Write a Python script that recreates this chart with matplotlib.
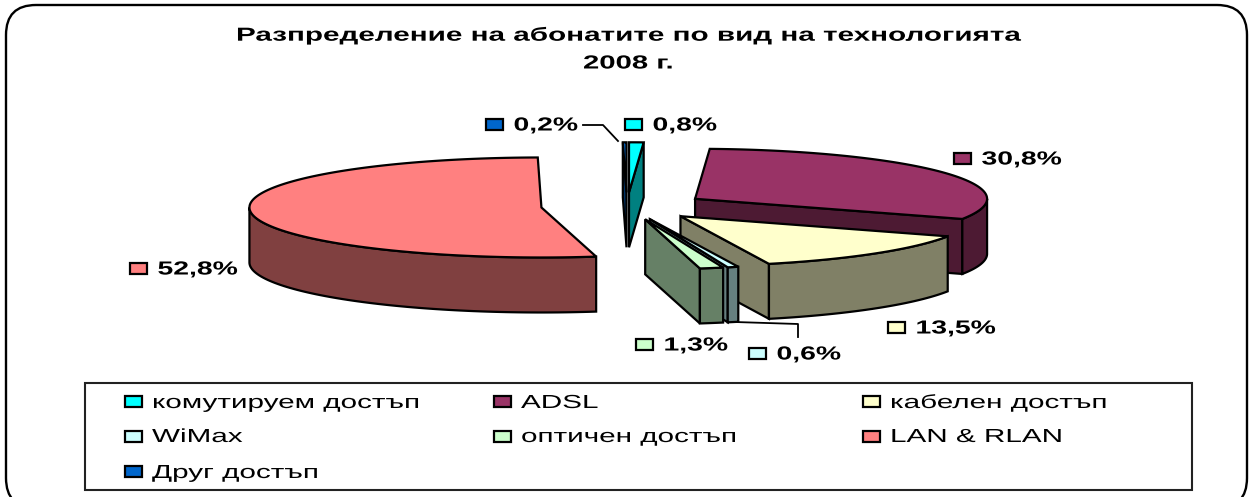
import numpy as np
import matplotlib
matplotlib.use("Agg")
import matplotlib.pyplot as plt
from matplotlib.patches import FancyBboxPatch, Polygon, Rectangle
from matplotlib.patheffects import AbstractPathEffect
from matplotlib.transforms import Affine2D

plt.rcParams["font.family"] = ["Liberation Sans", "DejaVu Sans"]

# -------------------------------
# Data (slices clockwise from 12 o'clock)
# -------------------------------
labels = ["комутируем достъп", "ADSL", "кабелен достъп", "WiMax",
          "оптичен достъп", "LAN & RLAN", "Друг достъп"]
values = [0.8, 30.8, 13.5, 0.6, 1.3, 52.8, 0.2]
colors = ["#00FFFF", "#993366", "#FFFFCC", "#CCFFFF", "#CCFFCC", "#FF8080", "#0066CC"]
title_lines = ["Разпределение на абонатите по вид на технологията", "2008 г."]

# pie geometry, in pixels of the figure
cx, cy = 627, 206
rx, ry = 292, 50
depth = 55
explode = [80, 80, 80, 80, 80, 86, 80]

# where each value label goes: swatch x, swatch y
label_pos = [(633, 124), (962, 158), (896, 327), (757, 353), (644, 344), (138, 268), (494, 124)]
# back to front
draw_order = [5, 6, 0, 1, 2, 3, 4]


# the reference text is wide, as if the chart was stretched sideways
class StretchX(AbstractPathEffect):
    def __init__(self, sx):
        super().__init__()
        self.sx = sx

    def draw_path(self, renderer, gc, tpath, affine, rgbFace=None):
        renderer.draw_path(gc, tpath, Affine2D().scale(self.sx, 1) + affine, rgbFace)


def point(a, x0, y0):
    return x0 + rx * np.sin(a), y0 - ry * np.cos(a)


def shade(hex_color):
    rgb = matplotlib.colors.to_rgb(hex_color)
    return tuple(c * 0.5 for c in rgb)


def draw_slice(ax, a0, a1, color, offset):
    mid = (a0 + a1) / 2
    x0 = cx + offset * np.sin(mid)
    y0 = cy - offset * ry / rx * np.cos(mid)
    side = shade(color)
    kw = dict(edgecolor="black", linewidth=1.6, joinstyle="miter", zorder=3)

    # cut faces, only those turned to the viewer
    if np.sin(a0) < -1e-9:
        xe, ye = point(a0, x0, y0)
        ax.add_patch(Polygon([(x0, y0), (xe, ye), (xe, ye + depth), (x0, y0 + depth)], facecolor=side, **kw))
    if np.sin(a1) > 1e-9:
        xe, ye = point(a1, x0, y0)
        ax.add_patch(Polygon([(x0, y0), (xe, ye), (xe, ye + depth), (x0, y0 + depth)], facecolor=side, **kw))

    # rim, the part on the near half of the ellipse
    lo, hi = max(a0, np.pi / 2), min(a1, 3 * np.pi / 2)
    if hi > lo:
        t = np.linspace(lo, hi, 80)
        xs, ys = point(t, x0, y0)
        rim = np.r_[np.c_[xs, ys], np.c_[xs, ys + depth][::-1]]
        ax.add_patch(Polygon(rim, facecolor=side, **kw))

    # top
    t = np.linspace(a0, a1, 120)
    xs, ys = point(t, x0, y0)
    ax.add_patch(Polygon(np.r_[[(x0, y0)], np.c_[xs, ys]], facecolor=color, **kw))


def swatch(ax, x, y, color, w=17, h=11):
    ax.add_patch(Rectangle((x - w / 2, y - h / 2), w, h, facecolor=color,
                           edgecolor="black", linewidth=1.6, zorder=5))


def wide_text(ax, x, y, s, sx, **kw):
    ax.text(x, y, s, ha="left", va="baseline", fontsize=13.6, zorder=6,
            path_effects=[StretchX(sx)], **kw)


# -------------------------------
# Figure
# -------------------------------
fig = plt.figure(figsize=(12.5, 4.97), dpi=100)
ax = fig.add_axes([0, 0, 1, 1])
ax.set_xlim(0, 1250)
ax.set_ylim(497, 0)
ax.axis("off")

ax.add_patch(FancyBboxPatch((6, 5), 1241, 503, boxstyle="round,pad=0,rounding_size=30",
                            facecolor="white", edgecolor="black", linewidth=1.7, zorder=1))

wide_text(ax, 236, 40.7, title_lines[0], 1.57, fontweight="bold")
wide_text(ax, 583, 68.5, title_lines[1], 1.55, fontweight="bold")

edges = np.radians(np.r_[0, np.cumsum(values)] / sum(values) * 360)
for i in draw_order:
    draw_slice(ax, edges[i], edges[i + 1], colors[i], explode[i])

# leader lines
ax.plot([583, 603, 618], [125, 125, 141], color="black", lw=1.3, zorder=4)
ax.plot([735, 798, 798], [322, 324, 337], color="black", lw=1.3, zorder=4)

for v, c, (x, y) in zip(values, colors, label_pos):
    swatch(ax, x, y, c)
    wide_text(ax, x + 19.5, y + 6.5, f"{v:.1f}%".replace(".", ","), 1.5, fontweight="bold")

# legend
ax.add_patch(Rectangle((85, 383), 1107, 107, facecolor="white", edgecolor="#222222", linewidth=1.5, zorder=2))
col_x = [133, 502, 871]
row_y = [401.5, 436, 471.5]
row_base = [408, 442, 478]
for i, (name, c) in enumerate(zip(labels, colors)):
    x = col_x[i % 3]
    swatch(ax, x, row_y[i // 3], c)
    wide_text(ax, x + 19, row_base[i // 3], name, 1.57)

fig.savefig("out.png", dpi=100)
plt.close(fig)
